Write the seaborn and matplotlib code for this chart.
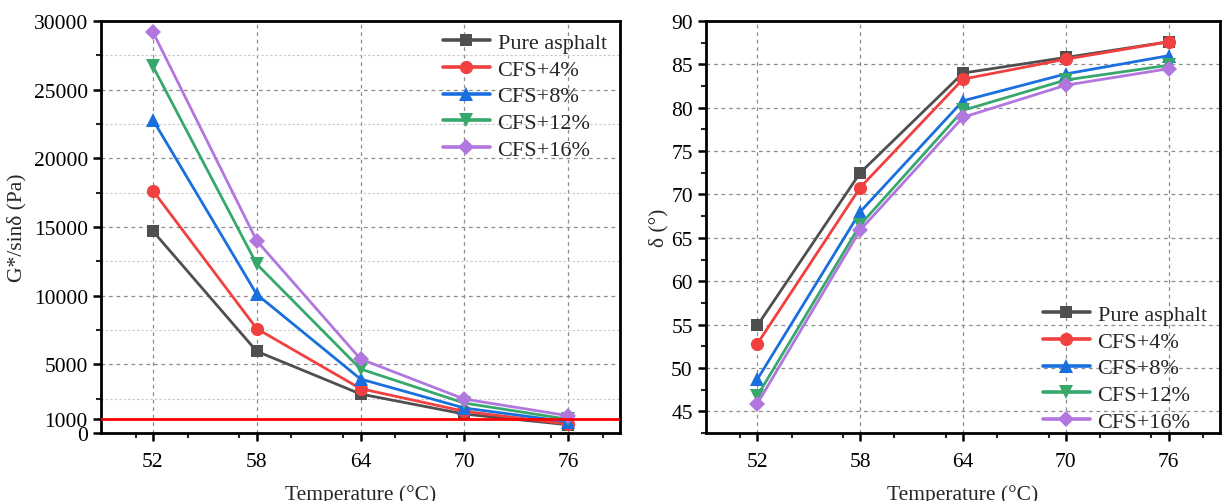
import numpy as np
import pandas as pd
import matplotlib
matplotlib.use("Agg")
import matplotlib.pyplot as plt
from matplotlib.ticker import MultipleLocator, FixedLocator
import seaborn as sns

temps = [52, 58, 64, 70, 76]
series = ["Pure asphalt", "CFS+4%", "CFS+8%", "CFS+12%", "CFS+16%"]
g_pure = [14700, 5950, 2840, 1380, 600]
g_cfs4 = [17650, 7600, 3230, 1580, 650]
g_cfs8 = [22800, 10100, 3930, 1820, 820]
g_cfs12 = [26700, 12300, 4660, 2180, 1000]
g_cfs16 = [29200, 14000, 5390, 2470, 1260]
d_pure = [54.9, 72.5, 84.0, 85.8, 87.6]
d_cfs4 = [52.8, 70.8, 83.3, 85.6, 87.6]
d_cfs8 = [48.7, 68.0, 80.8, 83.9, 86.0]
d_cfs12 = [46.8, 66.5, 79.7, 83.2, 84.9]
d_cfs16 = [45.9, 65.9, 78.9, 82.6, 84.5]
threshold = 1000
left_yticks = [0, 1000, 5000, 10000, 15000, 20000, 25000, 30000]

colors = ["#4f4f4f", "#f04040", "#1a6fdf", "#37a86b", "#b177de"]
markers = ["s", "o", "^", "v", "D"]
msizes = [8.5, 9.5, 9.5, 9.5, 8.5]

g_vals = [g_pure, g_cfs4, g_cfs8, g_cfs12, g_cfs16]
d_vals = [d_pure, d_cfs4, d_cfs8, d_cfs12, d_cfs16]
rows = []
for s, gv, dv in zip(series, g_vals, d_vals):
    for t, g, d in zip(temps, gv, dv):
        rows.append({"Temperature": t, "Series": s, "G": g, "delta": d})
df = pd.DataFrame(rows)

sns.set_theme(style="ticks")
plt.rcParams["font.family"] = ["Liberation Serif", "DejaVu Serif"]
plt.rcParams["mathtext.fontset"] = "stix"

fig = plt.figure(figsize=(12.28, 5.02), dpi=100)
W, H = 1228, 502
ax1 = fig.add_axes([101 / W, (H - 434) / H, (620 - 101) / W, (434 - 22) / H])
ax2 = fig.add_axes([706 / W, (H - 434) / H, (1220 - 706) / W, (434 - 22) / H])

for ax, col in [(ax1, "G"), (ax2, "delta")]:
    for i, s in enumerate(series):
        sub = df[df["Series"] == s]
        sns.lineplot(data=sub, x="Temperature", y=col, ax=ax, color=colors[i],
                     marker=markers[i], markersize=msizes[i], markeredgewidth=0,
                     linewidth=2.0, label=s, zorder=3 + i)

ax1.axhline(threshold, color="#ff0000", linewidth=2.0, zorder=10)

ax1.set_ylim(0, 30000)
ax1.yaxis.set_major_locator(FixedLocator(left_yticks))
ax1.yaxis.set_minor_locator(FixedLocator([2500, 7500, 12500, 17500, 22500, 27500]))
ax2.set_ylim(42.5, 90)
ax2.yaxis.set_major_locator(MultipleLocator(5))
ax2.yaxis.set_minor_locator(MultipleLocator(2.5))

for ax in (ax1, ax2):
    ax.set_xlim(49, 79)
    ax.set_xticks(temps)
    ax.xaxis.set_minor_locator(MultipleLocator(3))
    ax.set_xlabel("Temperature (°C)", fontsize=15.5, labelpad=9)
    ax.tick_params(axis="both", which="major", direction="out", length=6, width=1.8,
                   labelsize=15.5, colors="black")
    ax.tick_params(axis="both", which="minor", direction="out", length=3.5, width=1.5)
    ax.tick_params(axis="x", which="major", pad=8)
    for sp in ax.spines.values():
        sp.set_visible(True)
        sp.set_linewidth(2.0)
        sp.set_color("black")
    ax.grid(True, which="major", linestyle=(0, (3, 3)), color="#8c8c8c", linewidth=0.9)
    ax.set_facecolor("white")

ax1.grid(True, which="minor", axis="y", linestyle=(0, (2, 2)), color="#c8c8c8", linewidth=0.8)

ax1.set_ylabel("G*/sinδ (Pa)", fontsize=15.5, labelpad=5)
ax2.set_ylabel("δ (°)", fontsize=15.5, labelpad=2)

leg1 = ax1.legend(loc="upper right", bbox_to_anchor=(1.0, 1.005), frameon=False,
                  fontsize=16, handlelength=2.1, labelspacing=0.28,
                  borderaxespad=0.2, handletextpad=0.35)
leg2 = ax2.legend(loc="lower right", bbox_to_anchor=(1.0, -0.03), frameon=False,
                  fontsize=16, handlelength=2.1, labelspacing=0.28,
                  borderaxespad=0.2, handletextpad=0.35)
for leg in (leg1, leg2):
    for ln in leg.get_lines():
        ln.set_linewidth(2.6)

fig.savefig("out.png", dpi=100, facecolor="white")
